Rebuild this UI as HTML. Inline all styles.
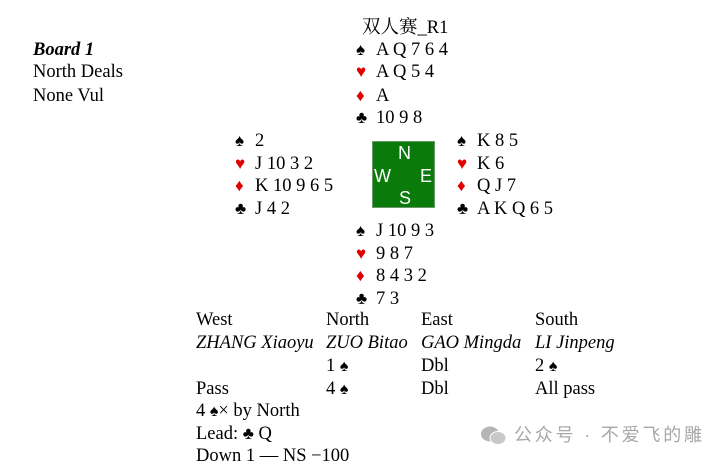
<!DOCTYPE html>
<html><head><meta charset="utf-8"><style>
body{margin:0;width:723px;height:465px;background:#fff;position:relative;overflow:hidden;font-family:"Liberation Serif","Noto Serif CJK SC",serif;font-size:18.5px;color:#000}
div.t{position:absolute;line-height:20px;white-space:nowrap}
.s{display:inline-block;width:20px;font-size:17px}
.r{color:#e00000}
i{font-style:italic}
</style></head><body>
<div class="t" style="left:362px;top:18px">双人赛_R1</div>
<div class="t" style="left:33px;top:40px"><b><i>Board 1</i></b></div>
<div class="t" style="left:33px;top:62px">North Deals</div>
<div class="t" style="left:33px;top:86px">None Vul</div>

<div class="t" style="left:356px;top:40px"><span class="s">♠</span>A Q 7 6 4</div>
<div class="t" style="left:356px;top:62px"><span class="s r">♥</span>A Q 5 4</div>
<div class="t" style="left:356px;top:86px"><span class="s r">♦</span>A</div>
<div class="t" style="left:356px;top:108px"><span class="s">♣</span>10 9 8</div>

<div class="t" style="left:235px;top:131px"><span class="s">♠</span>2</div>
<div class="t" style="left:235px;top:154px"><span class="s r">♥</span>J 10 3 2</div>
<div class="t" style="left:235px;top:176px"><span class="s r">♦</span>K 10 9 6 5</div>
<div class="t" style="left:235px;top:199px"><span class="s">♣</span>J 4 2</div>

<div class="t" style="left:457px;top:131px"><span class="s">♠</span>K 8 5</div>
<div class="t" style="left:457px;top:154px"><span class="s r">♥</span>K 6</div>
<div class="t" style="left:457px;top:176px"><span class="s r">♦</span>Q J 7</div>
<div class="t" style="left:457px;top:199px"><span class="s">♣</span>A K Q 6 5</div>

<div style="position:absolute;left:372px;top:141px;width:63px;height:67px;background:#0a7a0a;border:1px solid #6a9a6a;box-sizing:border-box;color:#fff;font-family:'Liberation Sans',sans-serif;font-size:18px;line-height:18px">
<span style="position:absolute;left:25px;top:2px">N</span>
<span style="position:absolute;left:1px;top:25px">W</span>
<span style="position:absolute;right:2px;top:25px">E</span>
<span style="position:absolute;left:26px;top:47px">S</span>
</div>

<div class="t" style="left:356px;top:221px"><span class="s">♠</span>J 10 9 3</div>
<div class="t" style="left:356px;top:244px"><span class="s r">♥</span>9 8 7</div>
<div class="t" style="left:356px;top:266px"><span class="s r">♦</span>8 4 3 2</div>
<div class="t" style="left:356px;top:289px"><span class="s">♣</span>7 3</div>

<div class="t" style="left:196px;top:310px">West</div>
<div class="t" style="left:326px;top:310px">North</div>
<div class="t" style="left:421px;top:310px">East</div>
<div class="t" style="left:535px;top:310px">South</div>
<div class="t" style="left:196px;top:333px"><i>ZHANG Xiaoyu</i></div>
<div class="t" style="left:326px;top:333px"><i>ZUO Bitao</i></div>
<div class="t" style="left:421px;top:333px"><i>GAO Mingda</i></div>
<div class="t" style="left:535px;top:333px"><i>LI Jinpeng</i></div>
<div class="t" style="left:326px;top:356px">1 <span style="font-size:16px">♠</span></div>
<div class="t" style="left:421px;top:356px">Dbl</div>
<div class="t" style="left:535px;top:356px">2 <span style="font-size:16px">♠</span></div>
<div class="t" style="left:196px;top:379px">Pass</div>
<div class="t" style="left:326px;top:379px">4 <span style="font-size:16px">♠</span></div>
<div class="t" style="left:421px;top:379px">Dbl</div>
<div class="t" style="left:535px;top:379px">All pass</div>
<div class="t" style="left:196px;top:401px">4 <span style="font-size:16px">♠</span>× by North</div>
<div class="t" style="left:196px;top:424px">Lead: <span style="font-size:17px">♣</span> Q</div>
<div class="t" style="left:196px;top:446px">Down 1 — NS −100</div>

<svg style="position:absolute;left:480px;top:425px" width="28" height="22" viewBox="0 0 28 22">
<ellipse cx="10" cy="9" rx="9" ry="7.5" fill="#b5b5b5"/>
<ellipse cx="18" cy="13" rx="8" ry="6.5" fill="#c8c8c8" stroke="#fff" stroke-width="1"/>
</svg>
<div class="t" style="left:514px;top:425px;color:#a8a8a8;font-family:'Liberation Sans','Noto Sans CJK SC',sans-serif;font-size:18px;letter-spacing:2.8px">公众号 · 不爱飞的雕</div>
</body></html>
